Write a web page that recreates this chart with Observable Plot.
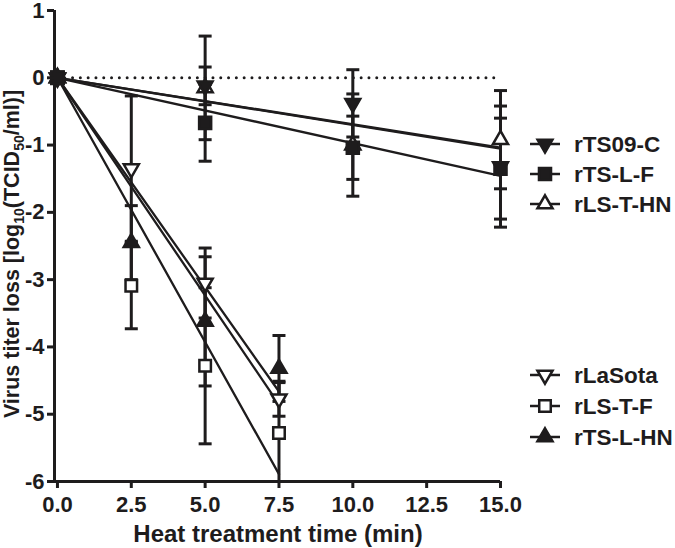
<!DOCTYPE html>
<html><head><meta charset="utf-8">
<script src="https://cdn.jsdelivr.net/npm/d3@7"></script>
<script src="https://cdn.jsdelivr.net/npm/@observablehq/plot@0.6"></script>
<style>
body{margin:0;background:#fff;}
#wrap{position:relative;width:675px;height:548px;font-family:"Liberation Sans",Arial,Helvetica,sans-serif;}
#wrap svg{position:absolute;left:0;top:0;}
</style></head><body><div id="wrap"></div>
<script>
// ---- data ----
const timesStable = [0, 5, 10, 15];
const timesLabile = [0, 2.5, 5, 7.5];
const xTicks = [0, 2.5, 5, 7.5, 10, 12.5, 15];
const yTicks = [-6, -5, -4, -3, -2, -1, 0, 1];
const seriesNames = ["rTS09-C", "rTS-L-F", "rLS-T-HN", "rLaSota", "rLS-T-F", "rTS-L-HN"];
const rTS09C_mean = [0, -0.12, -0.38, -1.32];
const rTS09C_sd   = [0, 0.28, 0.50, 0.90];
const rTSLF_mean  = [0, -0.67, -1.04, -1.35];
const rTSLF_sd    = [0, 0.57, 0.47, 0.75];
const rLSTHN_mean = [0, -0.15, -1.00, -0.92];
const rLSTHN_sd   = [0, 0.77, 0.76, 0.73];
const rLaSota_mean = [0, -1.35, -3.05, -4.77];
const rLaSota_sd   = [0, 1.08, 0.52, 0.26];
const rLSTF_mean  = [0, -3.09, -4.28, -5.28];
const rLSTF_sd    = [0, 0.64, 1.16, 0.75];
const rTSLHN_mean = [0, -2.45, -3.62, -4.32];
const rTSLHN_sd   = [0, 0.55, 0.96, 0.49];

const ink = "#1e1c1d";
const font = '"Liberation Sans", Arial, Helvetica, sans-serif';

// custom symbols
const triangleDown = {
  draw(ctx, size) {
    const y = -Math.sqrt(size / (3 * Math.sqrt(3)));
    ctx.moveTo(0, -y * 2);
    ctx.lineTo(-Math.sqrt(3) * y, y);
    ctx.lineTo(Math.sqrt(3) * y, y);
    ctx.closePath();
  }
};
const hline = {
  draw(ctx, size) {
    const w = Math.sqrt(size / Math.PI);
    ctx.moveTo(-w, 0); ctx.lineTo(w, 0);
  }
};

const series = [
  {name: seriesNames[0], t: timesStable, m: rTS09C_mean, sd: rTS09C_sd, symbol: triangleDown, open: false, r: 5.5},
  {name: seriesNames[1], t: timesStable, m: rTSLF_mean, sd: rTSLF_sd, symbol: "square", open: false, r: 6.8},
  {name: seriesNames[2], t: timesStable, m: rLSTHN_mean, sd: rLSTHN_sd, symbol: "triangle", open: true, r: 5.6},
  {name: seriesNames[3], t: timesLabile, m: rLaSota_mean, sd: rLaSota_sd, symbol: triangleDown, open: true, r: 5.6},
  {name: seriesNames[4], t: timesLabile, m: rLSTF_mean, sd: rLSTF_sd, symbol: "square", open: true, r: 6.5},
  {name: seriesNames[5], t: timesLabile, m: rTSLHN_mean, sd: rTSLHN_sd, symbol: "triangle", open: false, r: 5.6}
];

const xDomain = [-0.1, 15];
const yDomain = [-6, 1];

const rowsOf = s => s.t.map((t, i) => ({name: s.name, t, m: s.m[i], sd: s.sd[i],
  lo: Math.max(s.m[i] - s.sd[i], yDomain[0]), hi: s.m[i] + s.sd[i], loClamped: s.m[i] - s.sd[i] < yDomain[0]}));
const errRows = series.flatMap(rowsOf).filter(d => d.sd > 0);

// regression through the origin
const fitRows = series.flatMap(s => {
  const slope = d3.sum(s.t, (t, i) => t * s.m[i]) / d3.sum(s.t, t => t * t);
  return [0, d3.max(s.t)].map(t => ({name: s.name, t, y: slope * t}));
});

const marks = [
  Plot.line(fitRows, {x: "t", y: "y", z: "name", stroke: ink, strokeWidth: 2.3}),
  Plot.ruleY([0], {x1: d3.min(xTicks), x2: d3.max(xTicks), stroke: ink, strokeWidth: 3, strokeDasharray: "0 7.8", strokeLinecap: "round"}),
  Plot.ruleX(errRows, {x: "t", y1: "lo", y2: "hi", stroke: ink, strokeWidth: 3}),
  Plot.dot(errRows.filter(d => !d.loClamped), {x: "t", y: "lo", symbol: hline, r: 6.5, stroke: ink, strokeWidth: 3}),
  Plot.dot(errRows, {x: "t", y: "hi", symbol: hline, r: 6.5, stroke: ink, strokeWidth: 3})
];
[2, 0, 1, 3, 5, 4].forEach(k => {
  const s = series[k];
  marks.push(Plot.dot(rowsOf(s), {x: "t", y: "m", symbol: s.symbol, r: s.r,
    fill: s.open ? "white" : ink, stroke: ink, strokeWidth: 2.5}));
});
marks.push(Plot.dot(rowsOf(series[1]).filter(d => d.t === 0), {x: "t", y: "m", symbol: "square", r: 7, fill: ink, stroke: ink, strokeWidth: 2.5}));
marks.push(
  Plot.ruleY([yDomain[0]], {x1: xDomain[0], x2: xDomain[1], stroke: ink, strokeWidth: 3}),
  Plot.ruleX([xDomain[0]], {y1: yDomain[0], y2: yDomain[1], stroke: ink, strokeWidth: 3}),
  Plot.axisY({ticks: yTicks, tickSize: 7, tickPadding: 3, strokeWidth: 3, stroke: ink, fill: ink,
    tickFormat: d => (d < 0 ? "-" : "") + Math.abs(d), label: null, fontSize: 22, fontWeight: "bold"}),
  Plot.axisX({ticks: xTicks, tickSize: 7, tickPadding: 8, strokeWidth: 3, stroke: ink, fill: ink,
    tickFormat: d => d.toFixed(1), label: null, fontSize: 22, fontWeight: "bold"})
);

const chart = Plot.plot({
  width: 675, height: 548,
  marginLeft: 54, marginRight: 175, marginTop: 10, marginBottom: 67,
  x: {domain: xDomain},
  y: {domain: yDomain},
  style: {fontFamily: font, fontSize: "22px", fontWeight: "bold", color: ink, background: "white", overflow: "visible"},
  marks
});
document.getElementById("wrap").appendChild(chart);

// axis titles
const svg = d3.select(chart);
svg.append("text").attr("x", 278).attr("y", 542).attr("text-anchor", "middle")
  .attr("fill", ink).style("font-family", font).style("font-weight", "bold").style("font-size", "24px")
  .text("Heat treatment time (min)");
const yl = svg.append("text").attr("transform", "translate(19,254) rotate(-90)").attr("text-anchor", "middle")
  .attr("fill", ink).style("font-family", font).style("font-weight", "bold").style("font-size", "21.5px");
yl.append("tspan").text("Virus titer loss [log");
yl.append("tspan").attr("dy", 5).style("font-size", "14px").text("10");
yl.append("tspan").attr("dy", -5).text("(TCID");
yl.append("tspan").attr("dy", 5).style("font-size", "14px").text("50");
yl.append("tspan").attr("dy", -5).text("/ml)]");

// legend
const legendRows = [144, 174, 204, 375, 406, 437];
const leg = d3.select("#wrap").append("svg").attr("width", 675).attr("height", 548);
series.forEach((s, i) => {
  const g = leg.append("g").attr("transform", `translate(545,${legendRows[i]})`);
  g.append("line").attr("x1", -15).attr("x2", 15).attr("stroke", ink).attr("stroke-width", 2.5);
  const type = typeof s.symbol === "string" ? (s.symbol === "square" ? d3.symbolSquare : d3.symbolTriangle) : s.symbol;
  g.append("path").attr("d", d3.symbol(type, Math.PI * s.r * s.r)())
    .attr("fill", s.open ? "white" : ink).attr("stroke", ink).attr("stroke-width", 2.5);
  g.append("text").attr("x", 29).attr("dy", "0.36em").attr("fill", ink)
    .style("font-family", font).style("font-weight", "bold").style("font-size", "22.5px").text(s.name);
});
</script></body></html>
